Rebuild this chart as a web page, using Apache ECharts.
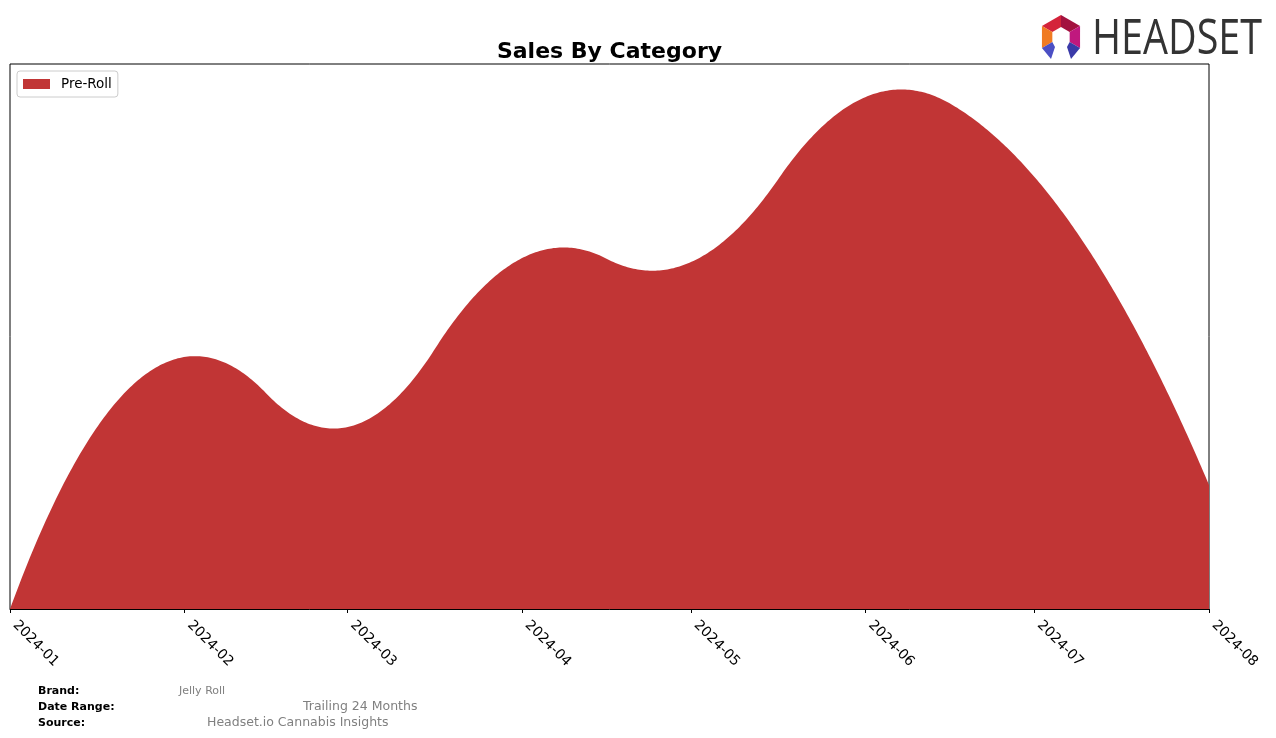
<!DOCTYPE html>
<html>
<head>
<meta charset="utf-8">
<script src="https://cdn.jsdelivr.net/npm/echarts@6/dist/echarts.min.js"></script>
<style>
html,body{margin:0;padding:0;background:#fff;}
#chart{width:1276px;height:738px;}
</style>
</head>
<body>
<div id="chart"></div>
<script>
var months = ['2024-01','2024-02','2024-03','2024-04','2024-05','2024-06','2024-07','2024-08'];
var preRollSales = [0, 252, 182, 351, 347, 512, 432, 124];
var tickLabels = ['2024-01','2024-02','2024-03','2024-04','2024-05','2024-06','2024-07','2024-08'];
var seriesName = 'Pre-Roll';

function toTs(s){ var p = s.split('-'); return Date.UTC(+p[0], +p[1]-1, 1); }
var tickValues = tickLabels.map(toTs);
var data = months.map(function(m,i){ return [toTs(m), preRollSales[i]]; });

var FONT = 'DejaVu Sans';
var RED = '#c13535';

// quadratic interpolating B-spline (knots at midpoints, like scipy k=2)
function solve(A, b){
  var n = b.length;
  for (var i=0;i<n;i++){
    var p=i; for (var k=i+1;k<n;k++) if (Math.abs(A[k][i])>Math.abs(A[p][i])) p=k;
    var t=A[i];A[i]=A[p];A[p]=t; var tb=b[i];b[i]=b[p];b[p]=tb;
    for (var k2=i+1;k2<n;k2++){ var f=A[k2][i]/A[i][i]; for (var j=i;j<n;j++) A[k2][j]-=f*A[i][j]; b[k2]-=f*b[i]; }
  }
  var x=new Array(n);
  for (var i2=n-1;i2>=0;i2--){ var s=b[i2]; for (var j2=i2+1;j2<n;j2++) s-=A[i2][j2]*x[j2]; x[i2]=s/A[i2][i2]; }
  return x;
}
function basisRow(t, k, nb, x){
  var s = k;
  for (var q=k; q<nb; q++){ if (t[q] <= x) s = q; }
  var N = [1], left = [0], right = [0];
  for (var j=1;j<=k;j++){
    left[j] = x - t[s+1-j]; right[j] = t[s+j] - x;
    var saved = 0;
    for (var r=0;r<j;r++){
      var temp = N[r]/(right[r+1]+left[j-r]);
      N[r] = saved + right[r+1]*temp;
      saved = left[j-r]*temp;
    }
    N[j] = saved;
  }
  var row = new Array(nb).fill(0);
  for (var i=0;i<=k;i++) row[s-k+i] = N[i];
  return row;
}
function quadSpline(pts, samples){
  var k = 2, n = pts.length;
  var xs = pts.map(function(p){return p[0];}), ys = pts.map(function(p){return p[1];});
  var t = [xs[0], xs[0], xs[0]];
  for (var i=1;i<n-2;i++) t.push((xs[i]+xs[i+1])/2);
  t.push(xs[n-1], xs[n-1], xs[n-1]);
  var nb = t.length - k - 1;
  var A = xs.map(function(x){ return basisRow(t, k, nb, x); });
  var c = solve(A, ys.slice());
  var out = [];
  for (var m=0;m<=samples;m++){
    var x = xs[0] + (xs[n-1]-xs[0])*m/samples;
    var row = basisRow(t, k, nb, x), y = 0;
    for (var q=0;q<nb;q++) y += row[q]*c[q];
    out.push([x, y]);
  }
  return out;
}

// logo geometry (decoration)
var cx = 1061, cy = 37, R = 22, r = 10;
function pt(rad, ang){ var a = ang*Math.PI/180; return [cx + rad*Math.cos(a), cy + rad*Math.sin(a)]; }
function seg(a0, a1, color){
  return {type:'polygon', shape:{points:[pt(R,a0), pt(R,a1), pt(r,a1), pt(r,a0)]}, style:{fill:color}, silent:true};
}
var logo = [
  seg(210, 270, '#d4233a'),
  seg(270, 330, '#a3123f'),
  seg(150, 210, '#f07b22'),
  seg(-30, 30, '#c0187e'),
  {type:'polygon', shape:{points:[pt(R,150), pt(r,150), [cx-6, cy+10], [cx-10, cy+22]]}, style:{fill:'#4b4fc4'}, silent:true},
  {type:'polygon', shape:{points:[pt(R,30), pt(r,30), [cx+6, cy+10], [cx+10, cy+22]]}, style:{fill:'#3a3aa8'}, silent:true},
  {type:'text', x:1092, y:39.5, scaleX:0.79, style:{text:'HEADSET', fill:'#333333', font:'50px "Open Sans"', textVerticalAlign:'middle', textAlign:'left'}, silent:true}
];

var footer = [
  {type:'text', x:38, y:691, style:{text:'Brand:', fill:'#000', font:'bold 11px "DejaVu Sans"', textVerticalAlign:'middle'}},
  {type:'text', x:38, y:707, style:{text:'Date Range:', fill:'#000', font:'bold 11px "DejaVu Sans"', textVerticalAlign:'middle'}},
  {type:'text', x:38, y:723, style:{text:'Source:', fill:'#000', font:'bold 11px "DejaVu Sans"', textVerticalAlign:'middle'}},
  {type:'text', x:179, y:691, style:{text:'Jelly Roll', fill:'#808080', font:'11px "DejaVu Sans"', textVerticalAlign:'middle'}},
  {type:'text', x:303, y:707, style:{text:'Trailing 24 Months', fill:'#808080', font:'12.5px "DejaVu Sans"', textVerticalAlign:'middle'}},
  {type:'text', x:207, y:723, style:{text:'Headset.io Cannabis Insights', fill:'#808080', font:'12.5px "DejaVu Sans"', textVerticalAlign:'middle'}}
];

var chart = echarts.init(document.getElementById('chart'), null, {renderer:'canvas'});
chart.setOption({
  backgroundColor:'#ffffff',
  animation:false,
  title:{text:'Sales By Category', left:604.5, textAlign:'center', top:36,
    textStyle:{fontFamily:FONT, fontWeight:'bold', fontSize:22, color:'#000'}},
  legend:{left:17, top:71, orient:'vertical', icon:'rect', itemWidth:27, itemHeight:10, itemGap:0,
    padding:[6,6,6,6], borderColor:'#cccccc', borderWidth:1, borderRadius:3, backgroundColor:'#fff',
    textStyle:{fontFamily:FONT, fontSize:13.5, color:'#000', padding:[0,0,0,6]},
    data:[{name:seriesName, itemStyle:{color:RED}}]},
  grid:{left:10, right:67, top:64, bottom:129, show:true, borderColor:'#000', borderWidth:1, containLabel:false},
  xAxis:{type:'value', min:tickValues[0], max:tickValues[tickValues.length-1],
    axisLine:{show:true, lineStyle:{color:'#000', width:1}},
    splitLine:{show:false},
    axisTick:{show:true, inside:false, length:4, lineStyle:{color:'#000'}, customValues:tickValues},
    axisLabel:{show:true, rotate:-45, margin:9, padding:[0,0,0,7], fontFamily:FONT, fontSize:14, color:'#000',
      customValues:tickValues,
      formatter:function(v){ var d=new Date(v); var m=d.getUTCMonth()+1; return d.getUTCFullYear()+'-'+(m<10?'0':'')+m; }}
  },
  yAxis:{type:'value', min:0, max:545, show:false, splitLine:{show:false}},
  series:[{name:seriesName, type:'custom', clip:true, data:data, itemStyle:{color:RED},
    encode:{x:0, y:1},
    renderItem:function(params, api){
      if (params.dataIndex !== 0) return null;
      var px = data.map(function(d){ return api.coord([d[0], d[1]]); });
      var curve = quadSpline(px, 600);
      var base0 = api.coord([data[0][0], 0]), base1 = api.coord([data[data.length-1][0], 0]);
      var pts = curve.concat([base1, base0]);
      return {type:'polygon', shape:{points:pts}, style:{fill:RED}};
    }
  }],
  graphic:logo.concat(footer)
});
</script>
</body>
</html>
